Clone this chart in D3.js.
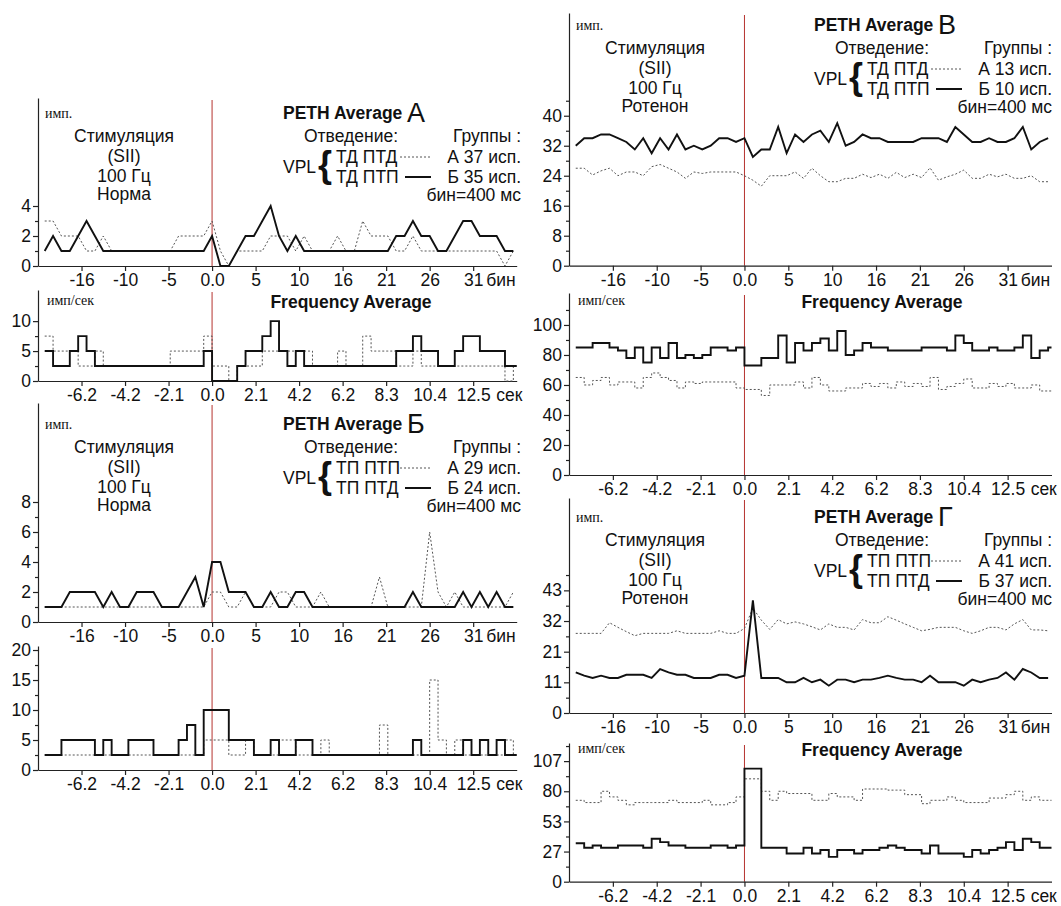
<!DOCTYPE html>
<html>
<head>
<meta charset="utf-8">
<script src="https://cdn.jsdelivr.net/npm/d3@7"></script>
<style>
  body { margin: 0; background: #fff; }
  svg { display: block; }
</style>
</head>
<body>
<script>
// bins of 400 ms, from -20 to 36 (stimulus at 0)
const bins = d3.range(-20, 37);
const binTickLabels = ["-16", "-10", "-5", "0.0", "5", "10", "16", "21", "26", "31"];
const secTickLabels = ["-6.2", "-4.2", "-2.1", "0.0", "2.1", "4.2", "6.2", "8.3", "10.4", "12.5"];
const gPethTickLabels = ["0", "11", "21", "32", "43"];
const gFreqTickLabels = ["0", "27", "53", "80", "107"];

// panel texts
const panelLetters = ["А", "Б", "В", "Г"];
const conditions = ["Норма", "Норма", "Ротенон", "Ротенон"];
const leadRowA = ["ТД ПТД", "ТП ПТП", "ТД ПТД", "ТП ПТП"];
const leadRowB = ["ТД ПТП", "ТП ПТД", "ТД ПТП", "ТП ПТД"];
const groupA = ["А 37 исп.", "А 29 исп.", "А 13 исп.", "А 41 исп."];
const groupB = ["Б 35 исп.", "Б 24 исп.", "Б 10 исп.", "Б 37 исп."];

// --- А: PETH (imp. per bin) and frequency (imp/s), group А dotted, group Б solid
const a_peth_grA = [3,3,2,2,2,1,1,2,1,1,1,1,1,1,1,1,2,2,2,2,
  3,1,0,1,1,1,1,2,2,2,1,2,1,1,1,2,1,1,3,2,2,2,1,1,2,1,1,1,1,1,1,1,1,1,1,0,1];
const a_peth_grB = [1,2,1,1,2,3,2,1,1,1,1,1,1,1,1,1,1,1,1,1,
  2,0,0,1,2,2,3,4,2,1,2,1,1,1,1,1,1,1,1,1,1,1,2,2,3,2,2,1,1,2,3,3,2,2,2,1,1];
const a_freq_grA = [7.5,5,5,5,2.5,2.5,5,2.5,2.5,2.5,2.5,2.5,2.5,2.5,2.5,5,5,5,5,7.5,
  2.5,2.5,0,2.5,2.5,2.5,5,5,5,5,5,5,2.5,2.5,2.5,5,2.5,2.5,7.5,5,5,5,2.5,2.5,5,
  2.5,2.5,2.5,2.5,2.5,2.5,2.5,2.5,2.5,2.5,0,2.5];
const a_freq_grB = [5,2.5,2.5,5,7.5,5,2.5,2.5,2.5,2.5,2.5,2.5,2.5,2.5,2.5,2.5,2.5,2.5,2.5,5,
  0,0,0,2.5,5,5,7.5,10,5,2.5,5,2.5,2.5,2.5,2.5,2.5,2.5,2.5,2.5,2.5,2.5,2.5,
  5,5,7.5,5,5,2.5,2.5,5,7.5,7.5,5,5,5,2.5,2.5];

// --- Б
const b_peth_grA = [1,1,1,1,1,1,1,1,1,1,1,1,1,1,1,1,1,1,1,1,
  2,2,1,1,2,1,1,1,2,2,1,1,1,2,1,1,1,1,1,1,3,1,1,1,1,1,6,2,1,2,1,1,1,1,1,1,2];
const b_peth_grB = [1,1,1,2,2,2,2,1,2,1,1,2,2,2,1,1,1,2,3,1,
  4,4,2,2,2,1,1,2,1,1,2,2,1,1,1,1,1,1,1,1,1,1,1,1,2,1,1,1,1,1,2,1,2,1,2,1,1];
const b_freq_grA = [2.5,2.5,2.5,2.5,2.5,2.5,2.5,2.5,2.5,2.5,2.5,2.5,2.5,2.5,2.5,2.5,2.5,2.5,2.5,5,
  5,5,2.5,2.5,5,2.5,2.5,2.5,5,5,2.5,2.5,2.5,5,2.5,2.5,2.5,2.5,2.5,2.5,7.5,
  2.5,2.5,2.5,2.5,2.5,15,5,2.5,5,2.5,2.5,2.5,2.5,2.5,5,2.5];
const b_freq_grB = [2.5,2.5,5,5,5,5,2.5,5,2.5,2.5,5,5,5,2.5,2.5,2.5,5,7.5,2.5,10,
  10,10,5,5,5,2.5,2.5,5,2.5,2.5,5,5,2.5,2.5,2.5,2.5,2.5,2.5,2.5,2.5,2.5,2.5,2.5,2.5,
  5,2.5,2.5,2.5,2.5,2.5,5,2.5,5,2.5,5,2.5,2.5];

// --- В
const v_peth_grA = [26,26,24.2,25.3,26,24,25,25,24,26.4,27,26,25,23.3,25,24.6,25,25,25,25,
  24,22.8,21.2,24,24,24,25,23.3,26,24,22.4,22.4,23.3,23.3,24.4,23.5,24.4,23.3,24.9,23.5,24.4,
  23.5,26.1,22.8,23.7,24.4,25.5,23.3,23.3,24.4,23.7,24.4,23.3,23.3,24,22.4,22.4];
const v_peth_grB = [32,34,34,35,35,34,33,31,34,30,34,31,35,31,32,31,32,34,34,33,
  34,29,31,31,37,30,35,33,35,36,33,38,32,33,35,34,34,33,33,33,33,
  34,34,34,33,37,35,33,33,34,33,33,34,37,31,33,34];
const v_freq_grA = [65,60,63,65,60,62,62,58,65,68,65,63,58,62,61,62,62,62,62,58,
  57,57,53,60,60,60,62,58,65,60,56,56,58,58,61,59,61,58,62,59,61,59,65,57,59,61,64,58,58,61,59,61,58,58,60,56,56];
const v_freq_grB = [85,85,88,88,85,83,78,85,75,85,78,88,78,80,78,80,85,85,83,85,
  73,73,78,78,93,75,88,83,88,91,83,96,80,83,88,85,85,83,83,83,83,85,85,85,83,93,88,83,83,85,83,83,85,93,78,83,85];

// --- Г
const g_peth_grA = [27.7,27.7,27.7,27.7,31.4,29.8,28.3,26.9,27.7,27.7,27.7,27.7,28.6,27.7,27.7,27.7,27.7,28.6,27.7,27.7,
  29.4,36.5,32.3,29.1,32.5,31,31.7,31,30,28.9,31,29.8,29.8,28.9,32.5,31.4,31.4,33.5,32.3,31,29.8,
  28.6,29.1,29.8,29.8,29.8,28.6,27.7,28.6,29.8,29.8,28.9,31,32.5,28.9,28.9,28.6];
const g_peth_grB = [14.1,13,12.2,13,12.2,12.2,13.3,13.3,13.3,12.2,15.3,14.1,13.3,13.3,12.2,12.2,12.2,13.3,13.3,12.2,
  13,39.2,12.2,12.2,12.2,10.7,10.7,12.2,10.7,11.6,9.5,11.6,11.6,10.7,11.6,11.6,12.2,13,12.2,11.6,11.6,
  10.7,13,10.7,10.7,10.7,9.5,11.6,10.7,11.6,12.2,14.1,11.6,15.3,14.1,12.2,12.2];
const g_freq_grA = [72,70,70,80,75,72,68,70,70,70,70,72,70,70,70,72,68,68,70,75,
  91,91,80,72,80,78,78,78,72,72,78,75,75,72,82,82,82,81,81,77,77,69,72,72,75,72,70,70,70,74,74,77,80,72,75,72,72];
const g_freq_grB = [34,30,32,30,30,32,32,32,30,38,35,32,32,30,30,30,32,32,30,32,
  100,100,30,30,30,25,25,30,25,28,22,28,28,25,28,28,30,32,30,28,28,25,32,25,25,25,22,28,25,28,30,35,28,38,35,30,30];

const FONT = "'Liberation Sans', Arial, sans-serif";
const SERIF = "'Liberation Serif', 'Times New Roman', serif";

const svg = d3.select("body").append("svg")
    .attr("width", 1061)
    .attr("height", 906)
    .attr("font-family", FONT);

const cols = [{x0: 38, x1: 516.7}, {x0: 569, x1: 1051.5}];
const xTicks = d3.range(-3, 7).map(i => i * 5.2);

const panels = [
  {col: 0, y0: 266, top: 98, yMax: 11.2, major: [0, 2, 4], minor: [1, 3],
   grA: a_peth_grA, grB: a_peth_grB, info: 0, titleY: 113},
  {col: 0, y0: 381, top: 290, yMax: 15.2, major: [0, 5, 10], minor: [2.5, 7.5],
   grA: a_freq_grA, grB: a_freq_grB, step: true, freqY: 302},
  {col: 0, y0: 622, top: 403, yMax: 14.6, major: [0, 2, 4, 6, 8], minor: [1, 3, 5, 7],
   grA: b_peth_grA, grB: b_peth_grB, info: 1, titleY: 424},
  {col: 0, y0: 770, top: 646, yMax: 20.67, major: [0, 5, 10, 15, 20], minor: [2.5, 7.5, 12.5, 17.5],
   grA: b_freq_grA, grB: b_freq_grB, step: true},
  {col: 1, y0: 265.7, top: 13, yMax: 67.4, major: [0, 8, 16, 24, 32, 40], minor: [4, 12, 20, 28, 36, 44],
   grA: v_peth_grA, grB: v_peth_grB, info: 2, titleY: 25},
  {col: 1, y0: 475, top: 293, yMax: 121.3, major: [0, 20, 40, 60, 80, 100], minor: [10, 30, 50, 70, 90, 110],
   grA: v_freq_grA, grB: v_freq_grB, step: true, freqY: 302},
  {col: 1, y0: 713, top: 498, yMax: 74.8, major: [0, 32 / 3, 64 / 3, 32, 128 / 3], majorLabels: gPethTickLabels,
   minor: [16 / 3, 16, 80 / 3, 112 / 3, 48], grA: g_peth_grA, grB: g_peth_grB, info: 3, titleY: 517},
  {col: 1, y0: 881.7, top: 743, yMax: 122.7, major: [0, 80 / 3, 160 / 3, 80, 320 / 3], majorLabels: gFreqTickLabels,
   minor: [40 / 3, 40, 200 / 3, 280 / 3, 120], grA: g_freq_grA, grB: g_freq_grB, step: true, freqY: 750}
];

function label(g, x, y, str, size, opts = {}) {
  return g.append("text")
      .attr("x", x)
      .attr("y", y)
      .attr("dy", "0.35em")
      .attr("font-size", size)
      .attr("font-weight", opts.bold ? "bold" : null)
      .attr("font-family", opts.serif ? SERIF : null)
      .attr("text-anchor", opts.anchor || "start")
      .attr("fill", "#111")
      .text(str);
}

function drawPanel(p) {
  const col = cols[p.col];
  const x = d3.scaleLinear().domain([-20.8, 36.4]).range([col.x0, col.x1]);
  const y = d3.scaleLinear().domain([0, p.yMax]).range([p.y0, p.top]);
  const g = svg.append("g");

  // stimulus marker
  g.append("line")
      .attr("x1", x(0)).attr("x2", x(0))
      .attr("y1", p.top + 2).attr("y2", y(0))
      .attr("stroke", "#b5332e")
      .attr("stroke-width", 1);

  // y axis with major + minor ticks
  const yAxis = g.append("g")
      .attr("transform", `translate(${col.x0},0)`)
      .call(d3.axisLeft(y)
          .tickValues(p.major)
          .tickFormat((d, i) => p.majorLabels ? p.majorLabels[i] : d)
          .tickSize(5)
          .tickSizeOuter(0)
          .tickPadding(2));
  const yMinor = g.append("g")
      .attr("transform", `translate(${col.x0},0)`)
      .call(d3.axisLeft(y).tickValues(p.minor).tickFormat("").tickSize(3))
      .call(a => a.select(".domain").remove());

  // x axis
  const tickLabels = p.step ? secTickLabels : binTickLabels;
  const xAxis = g.append("g")
      .attr("transform", `translate(0,${y(0)})`)
      .call(d3.axisBottom(x)
          .tickValues(xTicks)
          .tickFormat((d, i) => tickLabels[i])
          .tickSize(5)
          .tickSizeOuter(0)
          .tickPadding(3));

  [yAxis, yMinor, xAxis].forEach(a => {
    a.attr("font-family", FONT).attr("font-size", 17.5);
    a.selectAll("text").attr("fill", "#111");
    a.selectAll("path, line").attr("stroke", "#222").attr("stroke-width", 1.2);
  });

  g.append("text")
      .attr("x", x(31.2) + (p.step ? 23 : 13))
      .attr("y", y(0) + 20)
      .attr("font-size", 17.5)
      .attr("fill", "#111")
      .text(p.step ? "сек" : "бин");

  // series
  const line = d3.line().x(d => x(d[0])).y(d => y(d[1]));
  if (p.step) line.curve(d3.curveStepAfter);
  const pts = arr => {
    const out = bins.map((b, i) => [b, arr[i]]);
    if (p.step) out.push([x.domain()[1], arr[arr.length - 1]]);
    return out;
  };
  g.append("path")
      .datum(pts(p.grA))
      .attr("d", line)
      .attr("fill", "none")
      .attr("stroke", "#555")
      .attr("stroke-width", 1)
      .attr("stroke-dasharray", "2,2");
  g.append("path")
      .datum(pts(p.grB))
      .attr("d", line)
      .attr("fill", "none")
      .attr("stroke", "#111")
      .attr("stroke-width", 1.9);

  const x0 = col.x0;
  if (p.step && p.freqY) {
    label(g, x0 + 9, p.freqY - 2, "имп/сек", 14, {serif: true});
    label(g, x0 + 313, p.freqY, "Frequency Average", 17.5, {bold: true, anchor: "middle"});
  }

  if (p.info !== undefined) {
    const k = p.info, t = p.titleY;
    label(g, x0 + 7, t, "имп.", 14, {serif: true});
    label(g, x0 + 245, t, "PETH Average", 17.5, {bold: true});
    g.append("text")
        .attr("x", x0 + 369).attr("y", t + 9)
        .attr("font-size", 27)
        .attr("fill", "#111")
        .text(panelLetters[k]);

    const cx = x0 + 86;
    label(g, cx, t + 23, "Стимуляция", 17.5, {anchor: "middle"});
    label(g, cx, t + 43, "(SII)", 17.5, {anchor: "middle"});
    label(g, cx, t + 63, "100 Гц", 17.5, {anchor: "middle"});
    label(g, cx, t + 81, conditions[k], 17.5, {anchor: "middle"});

    label(g, x0 + 313, t + 23, "Отведение:", 17.5, {anchor: "middle"});
    label(g, x0 + 483, t + 23, "Группы :", 17.5, {anchor: "end"});
    label(g, x0 + 245, t + 54, "VPL", 17.5);
    g.append("text")
        .attr("x", x0 + 280).attr("y", t + 64)
        .attr("font-size", 36)
        .attr("font-weight", "bold")
        .attr("fill", "#111")
        .text("{");
    label(g, x0 + 298, t + 44, leadRowA[k], 17.5);
    label(g, x0 + 298, t + 64, leadRowB[k], 17.5);
    g.append("line")
        .attr("x1", x0 + 362).attr("x2", x0 + 393)
        .attr("y1", t + 44).attr("y2", t + 44)
        .attr("stroke", "#555").attr("stroke-width", 1).attr("stroke-dasharray", "2,2");
    g.append("line")
        .attr("x1", x0 + 367).attr("x2", x0 + 393)
        .attr("y1", t + 64).attr("y2", t + 64)
        .attr("stroke", "#111").attr("stroke-width", 2);
    label(g, x0 + 483, t + 44, groupA[k], 17.5, {anchor: "end"});
    label(g, x0 + 483, t + 64, groupB[k], 17.5, {anchor: "end"});
    label(g, x0 + 483, t + 82, "бин=400 мс", 17.5, {anchor: "end"});
  }
}

panels.forEach(drawPanel);
</script>
</body>
</html>
